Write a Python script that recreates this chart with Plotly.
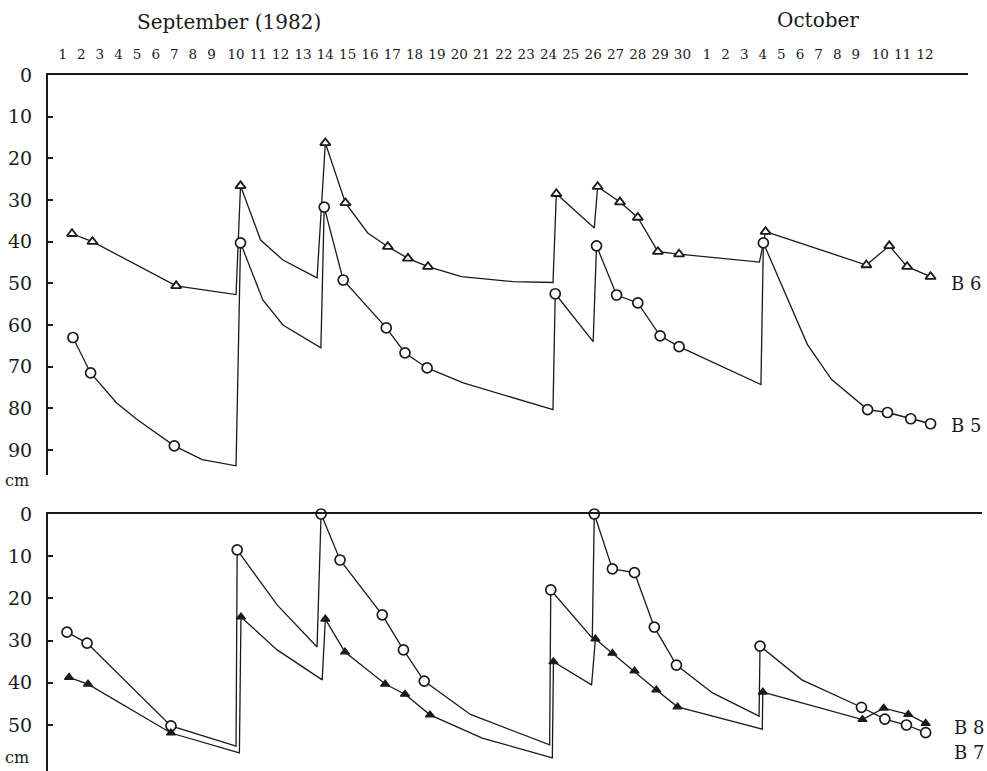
import numpy as np
import plotly.graph_objects as go

# ---------------- data ----------------
sep_labels = [str(d) for d in range(1, 31)]
oct_labels = [str(d) for d in range(1, 13)]
day_labels = sep_labels + oct_labels
day_index = list(range(1, 43))          # Sep 1 = 1 ... Oct 1 = 31 ... Oct 12 = 42

# B6 (open triangles, upper panel) : day index, depth (cm), measured point flag
b6_day = [1.5, 2.6, 7.1, 10.0, 10.2, 11.1, 12.1, 13.63, 14.0, 14.9, 15.9, 16.8, 17.7, 18.6, 20.1,
          22.4, 24.2, 24.35, 26.05, 26.2, 27.2, 28.0, 28.9, 29.85, 33.82, 34.15, 39.43, 40.4, 41.2, 42.25]
b6_depth = [38.1, 40.0, 50.6, 52.7, 26.6, 39.6, 44.4, 48.7, 16.3, 30.7, 37.9, 41.2, 44.0, 46.0, 48.4,
            49.6, 49.8, 28.5, 36.7, 26.8, 30.5, 34.2, 42.4, 43.0, 44.9, 37.6, 45.6, 41.0, 46.0, 48.4]
b6_obs = [1, 1, 1, 0, 1, 0, 0, 0, 1, 1, 0, 1, 1, 1, 0,
          0, 0, 1, 0, 1, 1, 1, 1, 1, 0, 1, 1, 1, 1, 1]

# B5 (open circles, upper panel)
b5_day = [1.55, 2.5, 3.9, 5.0, 7.0, 8.5, 10.0, 10.2, 11.2, 12.1, 13.8, 13.95, 14.8, 16.73, 17.57,
          18.56, 20.18, 24.2, 24.3, 26.0, 26.15, 27.05, 28.0, 29.0, 29.85, 33.9, 34.03, 36.4, 37.7,
          39.48, 40.32, 41.36, 42.25]
b5_depth = [63.0, 71.5, 78.7, 82.7, 89.0, 92.3, 93.8, 40.3, 54.0, 60.0, 65.5, 31.7, 49.2, 60.7, 66.7,
            70.3, 73.9, 80.3, 52.5, 64.0, 41.0, 52.8, 54.7, 62.6, 65.2, 74.3, 40.3, 64.7, 73.1,
            80.3, 81.0, 82.5, 83.7]
b5_obs = [1, 1, 0, 0, 1, 0, 0, 1, 0, 0, 0, 1, 1, 1, 1,
          1, 0, 0, 1, 0, 1, 1, 1, 1, 1, 0, 1, 0, 0,
          1, 1, 1, 1]

# B8 (open circles, lower panel)
b8_day = [1.23, 2.31, 6.82, 10.0, 10.05, 11.85, 13.63, 13.81, 14.66, 16.55, 17.5, 18.43, 20.5, 24.05,
          24.1, 25.96, 26.05, 26.86, 27.85, 28.74, 29.73, 31.3, 33.8, 33.85, 36.1, 39.23, 40.2, 41.17, 42.03]
b8_depth = [28.0, 30.6, 50.2, 55.0, 8.5, 21.6, 31.5, 0.0, 10.9, 23.9, 32.2, 39.6, 47.5, 54.7,
            18.0, 29.4, 0.0, 13.0, 13.9, 26.8, 35.8, 42.4, 47.9, 31.3, 39.3, 45.8, 48.6, 50.0, 51.8]
b8_obs = [1, 1, 1, 0, 1, 0, 0, 1, 1, 1, 1, 1, 0, 0,
          1, 0, 1, 1, 1, 1, 1, 0, 0, 1, 0, 1, 1, 1, 1]

# B7 (filled triangles, lower panel)
b7_day = [1.34, 2.36, 6.82, 10.15, 10.22, 11.84, 13.86, 14.0, 14.88, 16.68, 17.57, 18.69, 21.03, 24.17,
          24.22, 25.93, 26.1, 26.86, 27.85, 28.83, 29.78, 33.97, 34.0, 39.27, 40.15, 41.25, 42.03]
b7_depth = [38.7, 40.3, 51.9, 56.6, 24.4, 32.2, 39.3, 24.9, 32.7, 40.3, 42.7, 47.6, 53.1, 57.8,
            35.0, 40.5, 29.6, 33.0, 37.2, 41.7, 45.7, 51.0, 42.2, 48.7, 46.0, 47.5, 49.6]
b7_obs = [1, 1, 1, 0, 1, 0, 0, 1, 1, 1, 1, 1, 0, 0,
          1, 0, 1, 1, 1, 1, 1, 0, 1, 1, 1, 1, 1]

top_ticks = list(range(0, 100, 10))
bottom_ticks = list(range(0, 60, 10))

# ---------------- day axis (label-width based spacing, as in the typeset original) ----------------
def gap(a, b):
    if len(a) == 1 and len(b) == 1:
        return 1.0
    if len(a) == 2 and len(b) == 2:
        return 1.2
    return 1.32

tick_pos = np.concatenate([[0.0], np.cumsum([gap(day_labels[i], day_labels[i + 1])
                                              for i in range(len(day_labels) - 1)])])

def xpos(days):
    d = np.asarray(days, dtype=float)
    out = np.interp(d, day_index, tick_pos)
    out = np.where(d > day_index[-1], tick_pos[-1] + (d - day_index[-1]) * 1.2, out)
    out = np.where(d < day_index[0], tick_pos[0] + (d - day_index[0]) * 1.0, out)
    return out

# ---------------- geometry ----------------
W, H = 987, 771
ML, MR = 48, 5
PLOT_W = W - ML - MR
PX_UNIT = 18.6        # pixels per spacing unit
SEP1_PX = 62.7        # pixel of first day label
x_lo = (ML - SEP1_PX) / PX_UNIT
x_hi_bottom = (W - MR - SEP1_PX) / PX_UNIT
top_right_px = 968
x_hi_top = (top_right_px - SEP1_PX) / PX_UNIT
top_dom_right = (top_right_px - ML) / PLOT_W

FONT = "DejaVu Serif"
INK = "#1a1a1a"

fig = go.Figure()

def add_series(days, depth, obs, xa, ya, symbol, size, lw, fill):
    xs = xpos(days)
    fig.add_trace(go.Scatter(x=xs, y=depth, mode="lines", xaxis=xa, yaxis=ya,
                             line=dict(color=INK, width=1.3), cliponaxis=False,
                             showlegend=False, hoverinfo="skip"))
    mx = [x for x, o in zip(xs, obs) if o]
    my = [y for y, o in zip(depth, obs) if o]
    fig.add_trace(go.Scatter(x=mx, y=my, mode="markers", xaxis=xa, yaxis=ya, cliponaxis=False,
                             marker=dict(symbol=symbol, size=size, color=fill,
                                         line=dict(color=INK, width=lw)),
                             showlegend=False))

add_series(b6_day, b6_depth, b6_obs, "x", "y", "triangle-up", 9, 1.8, "white")
add_series(b5_day, b5_depth, b5_obs, "x", "y", "circle", 10, 1.7, "white")
add_series(b8_day, b8_depth, b8_obs, "x2", "y2", "circle", 10, 1.7, "white")
add_series(b7_day, b7_depth, b7_obs, "x2", "y2", "triangle-up", 8, 1.2, INK)

axis_common = dict(showgrid=False, zeroline=False, showline=True, linecolor=INK, automargin=False)

fig.update_layout(
    template="none",
    width=W, height=H,
    margin=dict(l=ML, r=MR, t=0, b=0, pad=0),
    paper_bgcolor="white", plot_bgcolor="white",
    font=dict(family=FONT, color=INK),
    showlegend=False,
    xaxis=dict(domain=[0, top_dom_right], range=[x_lo, x_hi_top], anchor="y", side="top",
               tickmode="array", tickvals=list(tick_pos), ticktext=day_labels,
               ticks="", ticklabelstandoff=9, tickfont=dict(family=FONT, size=13.5, color=INK),
               linewidth=2, **axis_common),
    xaxis2=dict(domain=[0, 1], range=[x_lo, x_hi_bottom], anchor="y2", side="top",
                showticklabels=False, ticks="", linewidth=2, **axis_common),
    yaxis=dict(domain=[(H - 475) / H, (H - 75) / H], range=[96, 0], anchor="x",
               tickmode="array", tickvals=top_ticks, ticks="inside", ticklen=5, tickwidth=1.5,
               tickcolor=INK, ticklabelstandoff=10,
               tickfont=dict(family=FONT, size=19, color=INK), linewidth=2, **axis_common),
    yaxis2=dict(domain=[0, (H - 514) / H], range=[60.9, 0], anchor="x2",
                tickmode="array", tickvals=bottom_ticks, ticks="inside", ticklen=5, tickwidth=1.5,
                tickcolor=INK, ticklabelstandoff=10,
                tickfont=dict(family=FONT, size=19, color=INK), linewidth=2, **axis_common),
)

ann = [
    dict(text="September (1982)", xref="paper", yref="paper", x=(229 - ML) / PLOT_W, y=(H - 22) / H,
         font=dict(size=20)),
    dict(text="October", xref="paper", yref="paper", x=(818 - ML) / PLOT_W, y=(H - 20) / H,
         font=dict(size=20)),
    dict(text="cm", xref="paper", yref="paper", x=(17 - ML) / PLOT_W, y=(H - 480) / H,
         font=dict(size=16)),
    dict(text="cm", xref="paper", yref="paper", x=(17 - ML) / PLOT_W, y=(H - 757) / H,
         font=dict(size=16)),
    dict(text="B 6", xref="paper", yref="y", x=(966 - ML) / PLOT_W, y=50.0, font=dict(size=18)),
    dict(text="B 5", xref="paper", yref="y", x=(966 - ML) / PLOT_W, y=84.2, font=dict(size=18)),
    dict(text="B 8", xref="paper", yref="y2", x=(969 - ML) / PLOT_W, y=50.5, font=dict(size=18)),
    dict(text="B 7", xref="paper", yref="y2", x=(969 - ML) / PLOT_W, y=56.4, font=dict(size=18)),
]
for a in ann:
    a["showarrow"] = False
    a["xanchor"] = "center"
    a["yanchor"] = "middle"
    a["font"] = dict(family=FONT, color=INK, **a["font"])
fig.update_layout(annotations=ann)

fig.write_html("out.html")
